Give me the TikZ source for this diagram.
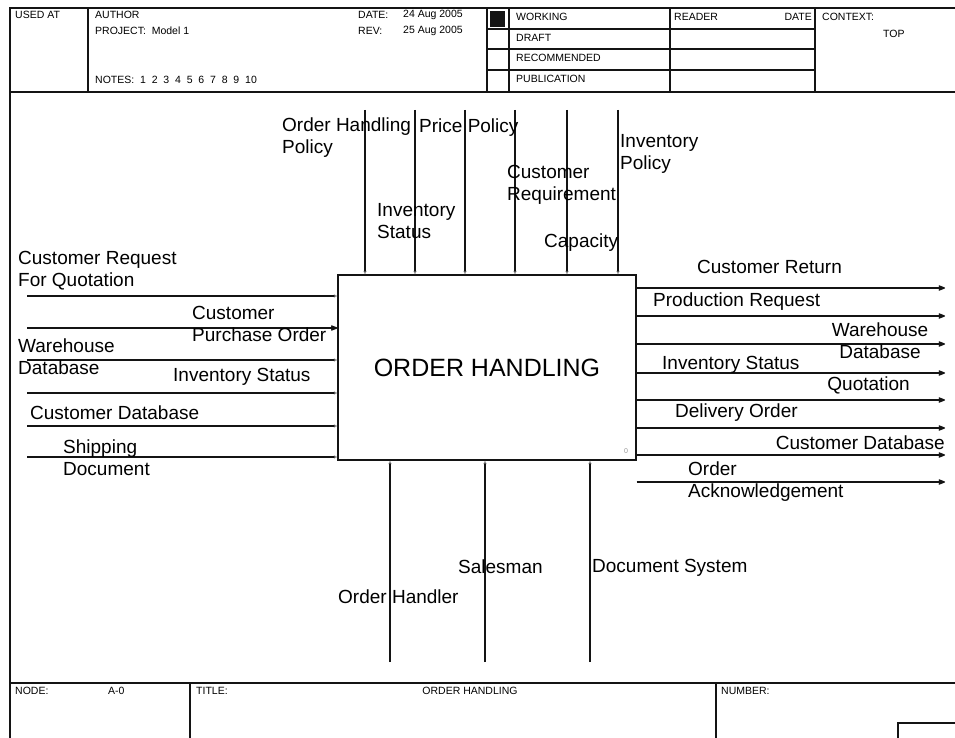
\documentclass[tikz,border=0pt]{standalone}
\usepackage{fontspec}
\setmainfont{Liberation Sans}
\usepackage{tikz}
\usetikzlibrary{arrows.meta,positioning}
\definecolor{IdefInk}{RGB}{20,20,20}
\definecolor{IdefFaint}{RGB}{150,150,150}

\begin{document}
\begin{tikzpicture}[x=1pt,y=-1pt,
    sheet/.style={draw=IdefInk,line width=1.2pt},
    flowline/.style={draw=IdefInk,line width=1.3pt},
    solidhead/.style={flowline,-{Stealth[length=9pt,width=7pt,round]}},
    faintdot/.style={flowline,-{Stealth[length=3.5pt,width=3.5pt,color=IdefFaint]}},
    flowlbl/.style={font=\fontsize{19}{22}\selectfont,inner sep=0pt,align=left,anchor=west},
    hdrtext/.style={font=\fontsize{10.5}{12}\selectfont,inner sep=0pt,anchor=west}
]
\useasboundingbox (0,0) rectangle (955,738);

\draw[sheet] (10,745) -- (10,8) -- (960,8);
\draw[sheet] (10,92) -- (960,92);
\draw[sheet] (10,683) -- (960,683);
\draw[sheet] (88,8) -- (88,92);
\draw[sheet] (487,8) -- (487,92) (509,8) -- (509,92) (670,8) -- (670,92) (815,8) -- (815,92);
\draw[sheet] (487,29) -- (815,29) (487,49) -- (815,49) (487,70) -- (815,70);
\fill[IdefInk] (490,11) rectangle (505,27);
\draw[sheet] (190,683) -- (190,745) (716,683) -- (716,745);
\draw[sheet] (898,745) -- (898,723) -- (960,723);

\node[hdrtext] (usedat) at (15,15) {USED AT};
\node[hdrtext] (author) at (95,15) {AUTHOR};
\node[hdrtext] (project) at (95,31) {PROJECT:\ \ Model 1};
\node[hdrtext] (notes) at (95,80) {NOTES:\ \ 1\ \ 2\ \ 3\ \ 4\ \ 5\ \ 6\ \ 7\ \ 8\ \ 9\ \ 10};
\node[hdrtext] (date) at (358,15) {DATE:};
\node[hdrtext] (dateval) at (403,15) {24 Aug 2005};
\node[hdrtext] (rev) at (358,31) {REV:};
\node[hdrtext] (revval) at (403,31) {25 Aug 2005};
\node[hdrtext] (working) at (516,17) {WORKING};
\node[hdrtext] (draft) at (516,38) {DRAFT};
\node[hdrtext] (recommended) at (516,58) {RECOMMENDED};
\node[hdrtext] (publication) at (516,79) {PUBLICATION};
\node[hdrtext] (reader) at (674,17) {READER};
\node[hdrtext,anchor=east] (readerdate) at (812,17) {DATE};
\node[hdrtext] (context) at (822,17) {CONTEXT:};
\node[hdrtext] (top) at (883,34) {TOP};

\node[hdrtext] (nodeno) at (15,691) {NODE:};
\node[hdrtext] (nodeval) at (108,691) {A-0};
\node[hdrtext] (title) at (196,691) {TITLE:};
\node[hdrtext,anchor=center] (titleval) at (470,691) {ORDER HANDLING};
\node[hdrtext] (number) at (721,691) {NUMBER:};

\node[draw=IdefInk,line width=1.3pt,minimum width=298pt,minimum height=185pt,inner sep=0pt,
    font=\fontsize{25}{28}\selectfont] (oh) at (487,367.5) {ORDER HANDLING};
\node[font=\fontsize{7}{8}\selectfont,text=IdefFaint] (ohnum) at (626,451) {0};

\coordinate (c1) at (365,110);
\coordinate (c2) at (415,110);
\coordinate (c3) at (465,110);
\coordinate (c4) at (515,110);
\coordinate (c5) at (567,110);
\coordinate (c6) at (618,110);
\draw[faintdot] (c1) -- (c1 |- oh.north);
\draw[faintdot] (c2) -- (c2 |- oh.north);
\draw[faintdot] (c3) -- (c3 |- oh.north);
\draw[faintdot] (c4) -- (c4 |- oh.north);
\draw[faintdot] (c5) -- (c5 |- oh.north);
\draw[faintdot] (c6) -- (c6 |- oh.north);

\coordinate (i1) at (27,296);
\coordinate (i2) at (27,328);
\coordinate (i3) at (27,360);
\coordinate (i4) at (27,393);
\coordinate (i5) at (27,426);
\coordinate (i6) at (27,457);
\draw[faintdot] (i1) -- (i1 -| oh.west);
\draw[solidhead] (i2) -- (i2 -| oh.west);
\draw[faintdot] (i3) -- (i3 -| oh.west);
\draw[faintdot] (i4) -- (i4 -| oh.west);
\draw[faintdot] (i5) -- (i5 -| oh.west);
\draw[faintdot] (i6) -- (i6 -| oh.west);

\coordinate (o1) at (945,288);
\coordinate (o2) at (945,316);
\coordinate (o3) at (945,344);
\coordinate (o4) at (945,373);
\coordinate (o5) at (945,400);
\coordinate (o6) at (945,428);
\coordinate (o7) at (945,455);
\coordinate (o8) at (945,482);
\draw[solidhead] (o1 -| oh.east) -- (o1);
\draw[solidhead] (o2 -| oh.east) -- (o2);
\draw[solidhead] (o3 -| oh.east) -- (o3);
\draw[solidhead] (o4 -| oh.east) -- (o4);
\draw[solidhead] (o5 -| oh.east) -- (o5);
\draw[solidhead] (o6 -| oh.east) -- (o6);
\draw[solidhead] (o7 -| oh.east) -- (o7);
\draw[solidhead] (o8 -| oh.east) -- (o8);

\coordinate (m1) at (390,662);
\coordinate (m2) at (485,662);
\coordinate (m3) at (590,662);
\draw[faintdot] (m1) -- (m1 |- oh.south);
\draw[faintdot] (m2) -- (m2 |- oh.south);
\draw[faintdot] (m3) -- (m3 |- oh.south);

\node[flowlbl] (ohpolicy) at (282,137.5) {Order Handling\\Policy};
\node[flowlbl] (pricepolicy) at (419,128) {Price Policy};
\node[flowlbl] (invstatusin) at (377,221) {Inventory\\Status};
\node[flowlbl] (custreq) at (507,185) {Customer\\Requirement};
\node[flowlbl] (capacity) at (544,243) {Capacity};
\node[flowlbl] (invpolicy) at (620,154) {Inventory\\Policy};

\node[flowlbl] (rfq) at (18,271) {Customer Request\\For Quotation};
\node[flowlbl] (purchase) at (192,324) {Customer\\Purchase Order};
\node[flowlbl] (whdbin) at (18,357) {Warehouse\\Database};
\node[flowlbl] (invstatusl) at (173,377) {Inventory Status};
\node[flowlbl] (custdbin) at (30,413) {Customer Database};
\node[flowlbl] (shipping) at (63,458) {Shipping\\Document};

\node[flowlbl] (custreturn) at (697,267) {Customer Return};
\node[flowlbl] (prodreq) at (653,302) {Production Request};
\node[flowlbl,align=center,anchor=center] (whdbout) at (880,341) {Warehouse\\Database};
\node[flowlbl] (invstatusout) at (662,365) {Inventory Status};
\node[flowlbl,anchor=east] (quotation) at (910,385) {Quotation};
\node[flowlbl] (delivery) at (675,413) {Delivery Order};
\node[flowlbl,anchor=east] (custdbout) at (945,443) {Customer Database};
\node[flowlbl] (orderack) at (688,482) {Order\\Acknowledgement};

\node[flowlbl] (salesman) at (458,567) {Salesman};
\node[flowlbl] (docsystem) at (592,568) {Document System};
\node[flowlbl] (handler) at (338,597) {Order Handler};
\end{tikzpicture}
\end{document}
